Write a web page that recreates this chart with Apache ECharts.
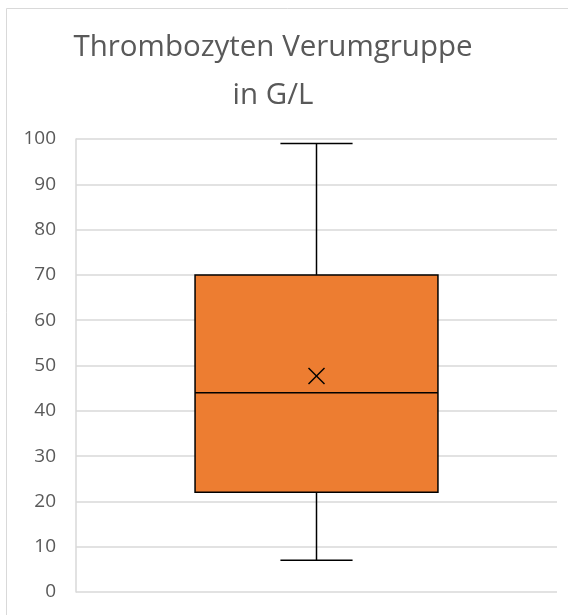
<!DOCTYPE html>
<html>
<head>
<meta charset="utf-8">
<script src="https://cdn.jsdelivr.net/npm/echarts@6/dist/echarts.min.js"></script>
<style>
  html, body { margin: 0; padding: 0; background: #fff; }
  #chart { width: 568px; height: 615px; }
</style>
</head>
<body>
<div id="chart"></div>
<script>
    // Thrombozyten Verumgruppe (G/L) - Kennwerte
    var categories = ['Verum'];
    var minValues = [7];
    var q1Values = [22];
    var medianValues = [44];
    var q3Values = [70];
    var maxValues = [99];
    var meanValues = [47.7];
    var yTicks = [0, 10, 20, 30, 40, 50, 60, 70, 80, 90, 100];

    var rows = categories.map(function (c, i) {
        return [i, minValues[i], q1Values[i], medianValues[i], q3Values[i], maxValues[i], meanValues[i]];
    });

    var myChart = echarts.init(document.getElementById('chart'));
    var option = {
        animation: false,
        backgroundColor: '#fff',
        title: {
            text: 'Thrombozyten Verumgruppe\nin G/L',
            left: 268,
            top: 19,
            textAlign: 'center',
            textStyle: {
                fontFamily: 'Open Sans',
                fontSize: 29.5,
                fontWeight: 'normal',
                color: '#595959',
                lineHeight: 48
            }
        },
        graphic: [{
            type: 'rect',
            shape: { x: 6.5, y: 8.5, width: 600, height: 700 },
            style: { fill: 'none', stroke: '#d9d9d9', lineWidth: 1 },
            silent: true
        }],
        grid: { left: 76, right: 11, top: 139, bottom: 23 },
        xAxis: {
            type: 'category',
            data: categories,
            axisLine: { show: false },
            axisTick: { show: false },
            axisLabel: { show: false }
        },
        yAxis: {
            type: 'value',
            min: yTicks[0],
            max: yTicks[yTicks.length - 1],
            interval: 10,
            axisLine: { show: true, lineStyle: { color: '#d9d9d9', width: 1.5 } },
            axisTick: { show: false },
            axisLabel: {
                margin: 20,
                fontFamily: 'Open Sans',
                fontSize: 19,
                color: '#595959'
            },
            splitLine: { lineStyle: { color: '#d9d9d9', width: 1.5 } }
        },
        series: [{
            type: 'custom',
            data: rows,
            encode: { x: 0, y: [1, 2, 3, 4, 5, 6] },
            renderItem: function (params, api) {
                var i = api.value(0);
                var band = api.size([1, 0])[0];
                var half = band * 0.2525;
                var cap = band * 0.075;
                var pMin = api.coord([i, api.value(1)]);
                var pQ1 = api.coord([i, api.value(2)]);
                var pMed = api.coord([i, api.value(3)]);
                var pQ3 = api.coord([i, api.value(4)]);
                var pMax = api.coord([i, api.value(5)]);
                var pMean = api.coord([i, api.value(6)]);
                var cx = pMed[0];
                var ls = { stroke: '#000', lineWidth: 1.5, fill: 'none' };
                var m = 8;
                return {
                    type: 'group',
                    children: [
                        { type: 'line', shape: { x1: cx, y1: pQ3[1], x2: cx, y2: pMax[1] }, style: ls },
                        { type: 'line', shape: { x1: cx - cap, y1: pMax[1], x2: cx + cap, y2: pMax[1] }, style: ls },
                        { type: 'line', shape: { x1: cx, y1: pQ1[1], x2: cx, y2: pMin[1] }, style: ls },
                        { type: 'line', shape: { x1: cx - cap, y1: pMin[1], x2: cx + cap, y2: pMin[1] }, style: ls },
                        {
                            type: 'rect',
                            shape: { x: cx - half, y: pQ3[1], width: half * 2, height: pQ1[1] - pQ3[1] },
                            style: { fill: '#ed7d31', stroke: '#000', lineWidth: 1.5 }
                        },
                        { type: 'line', shape: { x1: cx - half, y1: pMed[1], x2: cx + half, y2: pMed[1] }, style: ls },
                        { type: 'line', shape: { x1: pMean[0] - m, y1: pMean[1] - m, x2: pMean[0] + m, y2: pMean[1] + m }, style: ls },
                        { type: 'line', shape: { x1: pMean[0] - m, y1: pMean[1] + m, x2: pMean[0] + m, y2: pMean[1] - m }, style: ls }
                    ]
                };
            }
        }]
    };
    myChart.setOption(option);
</script>
</body>
</html>
